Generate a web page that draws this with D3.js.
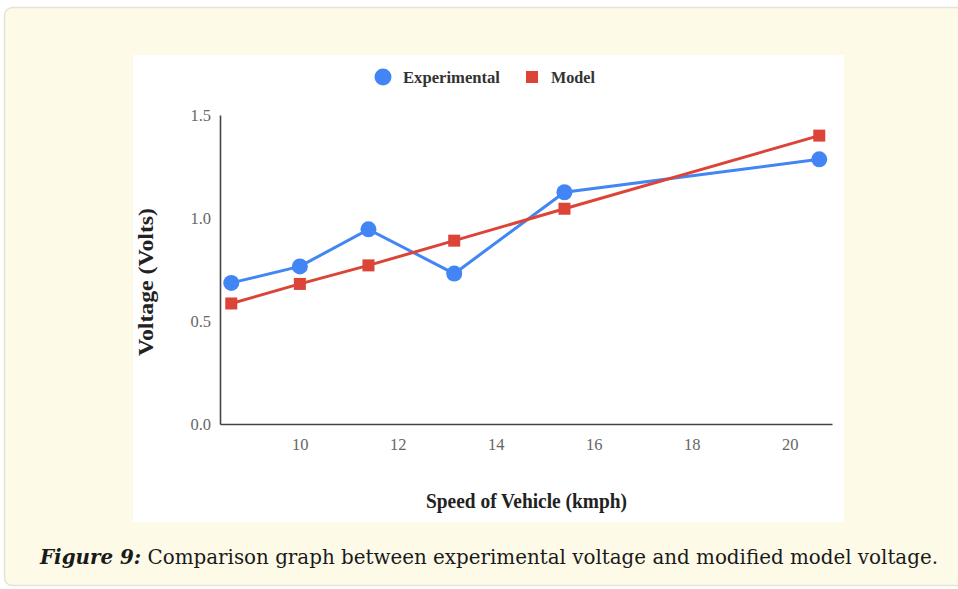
<!DOCTYPE html>
<html>
<head>
<meta charset="utf-8">
<script src="https://cdn.jsdelivr.net/npm/d3@7"></script>
<style>
  body { margin: 0; background: #fff; }
  svg { display: block; }
</style>
</head>
<body>
<svg id="chart"></svg>
<script>
// values
const speeds = [8.6, 10.0, 11.4, 13.15, 15.4, 20.6];
const experimental = [0.685, 0.765, 0.945, 0.73, 1.125, 1.285];
const model = [0.585, 0.68, 0.77, 0.89, 1.045, 1.40];
const xTicks = [10, 12, 14, 16, 18, 20];
const yTicks = [0.0, 0.5, 1.0, 1.5];
const seriesNames = ['Experimental', 'Model'];
const seriesColors = ['#4285f4', '#db4437'];

const width = 958, height = 589;
const serif = '"Liberation Serif", "Times New Roman", serif';

const svg = d3.select('#chart')
  .attr('width', width)
  .attr('height', height);

// cream card behind the figure
svg.append('rect')
  .attr('x', 4.5).attr('y', 7.5)
  .attr('width', 970).attr('height', 578)
  .attr('rx', 8)
  .style('fill', '#fefae8')
  .style('stroke', '#e6e2d6')
  .style('stroke-width', 1.5);

// white chart image
svg.append('rect')
  .attr('x', 133).attr('y', 55)
  .attr('width', 711).attr('height', 467)
  .style('fill', '#ffffff');

const plot = { left: 220, right: 832, top: 115, bottom: 424 };

const x = d3.scaleLinear()
  .domain([8.37, 20.86])
  .range([plot.left, plot.right]);

const y = d3.scaleLinear()
  .domain([0, 1.5])
  .range([plot.bottom, plot.top]);

// axes (no tick marks, only labels)
const xAxis = svg.append('g')
  .attr('transform', `translate(0,${plot.bottom})`)
  .call(d3.axisBottom(x).tickValues(xTicks).tickSize(0).tickPadding(14).tickFormat(d3.format('d')));

const yAxis = svg.append('g')
  .attr('transform', `translate(${plot.left},0)`)
  .call(d3.axisLeft(y).tickValues(yTicks).tickSize(0).tickPadding(9).tickFormat(d3.format('.1f')));

[xAxis, yAxis].forEach(ax => {
  ax.select('.domain').style('stroke', '#444').style('stroke-width', 1.6);
  ax.selectAll('text')
    .style('font-family', serif)
    .style('font-size', '16.5px')
    .style('fill', '#666');
});

// axis titles
svg.append('text')
  .attr('x', 426)
  .attr('y', 508)
  .attr('textLength', 201)
  .attr('lengthAdjust', 'spacingAndGlyphs')
  .style('font-family', serif)
  .style('font-weight', 'bold')
  .style('font-size', '20.5px')
  .style('fill', '#222')
  .text('Speed of Vehicle (kmph)');

svg.append('text')
  .attr('transform', 'translate(153,356) rotate(-90)')
  .attr('textLength', 148)
  .attr('lengthAdjust', 'spacingAndGlyphs')
  .style('font-family', serif)
  .style('font-weight', 'bold')
  .style('font-size', '20.5px')
  .style('fill', '#222')
  .text('Voltage (Volts)');

// series
const series = [experimental, model];
const line = d3.line()
  .x((d, i) => x(speeds[i]))
  .y(d => y(d));

series.forEach((vals, s) => {
  svg.append('path')
    .datum(vals)
    .attr('d', line)
    .style('fill', 'none')
    .style('stroke', seriesColors[s])
    .style('stroke-width', 3);
});

svg.append('g').selectAll('circle')
  .data(experimental)
  .join('circle')
  .attr('cx', (d, i) => x(speeds[i]))
  .attr('cy', d => y(d))
  .attr('r', 8)
  .style('fill', seriesColors[0]);

svg.append('g').selectAll('rect')
  .data(model)
  .join('rect')
  .attr('x', (d, i) => x(speeds[i]) - 6)
  .attr('y', d => y(d) - 6)
  .attr('width', 12)
  .attr('height', 12)
  .style('fill', seriesColors[1]);

// legend
const legend = svg.append('g').attr('transform', 'translate(0,77)');
legend.append('circle')
  .attr('cx', 383).attr('cy', 0).attr('r', 8.5)
  .style('fill', seriesColors[0]);
legend.append('rect')
  .attr('x', 526).attr('y', -6).attr('width', 12).attr('height', 12)
  .style('fill', seriesColors[1]);
[[seriesNames[0], 403, 97], [seriesNames[1], 551, 44]].forEach(([name, lx, len]) => {
  legend.append('text')
    .attr('x', lx).attr('y', 6)
    .attr('textLength', len)
    .attr('lengthAdjust', 'spacingAndGlyphs')
    .style('font-family', serif)
    .style('font-weight', 'bold')
    .style('font-size', '17.5px')
    .style('fill', '#333')
    .text(name);
});

// caption
const caption = svg.append('text')
  .attr('x', 40)
  .attr('y', 564)
  .attr('textLength', 898)
  .attr('lengthAdjust', 'spacingAndGlyphs')
  .style('font-family', '"DejaVu Serif Condensed", "Liberation Serif", serif')
  .style('font-size', '20px')
  .style('fill', '#1a1a1a');
caption.append('tspan')
  .style('font-weight', 'bold')
  .style('font-style', 'italic')
  .text('Figure 9:');
caption.append('tspan')
  .text(' Comparison graph between experimental voltage and modified model voltage.');
</script>
</body>
</html>
